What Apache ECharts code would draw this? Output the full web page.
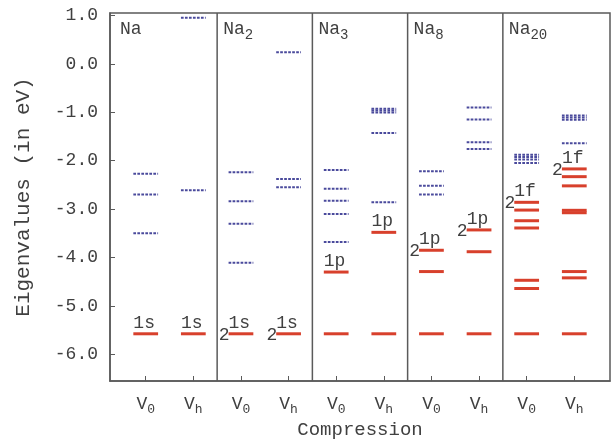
<!DOCTYPE html>
<html>
<head>
<meta charset="utf-8">
<script src="https://cdn.jsdelivr.net/npm/echarts@6/dist/echarts.min.js"></script>
<style>
  html, body { margin: 0; padding: 0; background: #ffffff; }
  #chart { width: 611px; height: 447px; }
</style>
</head>
<body>
<div id="chart"></div>
<script>
// Cluster names (base + subscript) and the two volumes compared in each panel
const clusterBase = ['Na', 'Na', 'Na', 'Na', 'Na'];
const clusterSub = ['', '2', '3', '8', '20'];
const volumeSub = ['0', 'h'];
const yTickValues = [1, 0, -1, -2, -3, -4, -5, -6];

// Occupied Kohn-Sham levels (eV), one list per cluster
const occupiedV0 = [
  [-5.575],
  [-5.575],
  [-4.30, -5.575],
  [-3.85, -4.29, -5.575],
  [-2.86, -3.02, -3.24, -3.39, -4.47, -4.64, -5.575]
];
const occupiedVh = [
  [-5.575],
  [-5.575],
  [-3.48, -5.575],
  [-3.43, -3.88, -5.575],
  [-2.17, -2.33, -2.52, -3.025, -3.075, -4.29, -4.42, -5.575]
];

// Unoccupied levels (eV)
const emptyV0 = [
  [-2.27, -2.70, -3.50],
  [-2.24, -2.84, -3.30, -4.11],
  [-2.19, -2.58, -2.83, -3.10, -3.68],
  [-2.22, -2.52, -2.70],
  [-1.875, -1.925, -1.975, -2.05]
];
const emptyVh = [
  [0.95, -2.61],
  [0.24, -2.38, -2.55],
  [-0.925, -0.965, -1.005, -1.43, -2.86],
  [-0.90, -1.15, -1.62, -1.76],
  [-1.065, -1.11, -1.155, -1.64]
];

// Shell labels: [cluster, volume (0 = V0, 1 = Vh), index into occupied list, shell, degeneracy]
const shellLabels = [
  [0, 0, 0, '1s', ''],
  [0, 1, 0, '1s', ''],
  [1, 0, 0, '1s', '2'],
  [1, 1, 0, '1s', '2'],
  [2, 0, 0, '1p', ''],
  [2, 1, 0, '1p', ''],
  [3, 0, 0, '1p', '2'],
  [3, 1, 0, '1p', '2'],
  [4, 0, 0, '1f', '2'],
  [4, 1, 0, '1f', '2']
];

const Y_MIN = -6.55, Y_MAX = 1.05;
const X_MIN = 0.25, X_MAX = 10.75;
const HALF = 0.26;
const FONT = "'Liberation Mono', 'DejaVu Sans Mono', monospace";
const TEXT = '#404040';
const RED = '#d8402c';
const BLUE = '#4a4a9c';
const FRAME = '#5a5a5a';

const xPos = (c, v) => 2 * c + 1 + v;

function levelData(v0, vh) {
  const out = [];
  for (let c = 0; c < v0.length; c++) {
    v0[c].forEach(e => out.push([xPos(c, 0), e]));
    vh[c].forEach(e => out.push([xPos(c, 1), e]));
  }
  return out;
}

const occupiedData = levelData(occupiedV0, occupiedVh);
const emptyData = levelData(emptyV0, emptyVh);
const labelData = shellLabels.map(([c, v, i, shell, deg]) => {
  const e = (v === 0 ? occupiedV0 : occupiedVh)[c][i];
  return [xPos(c, v), e, shell, deg];
});
const separatorData = [2.5, 4.5, 6.5, 8.5].map(x => [x, Y_MIN]);
const titleData = clusterBase.map((b, c) => [c === 0 ? X_MIN : 2 * c + 0.5, Y_MAX, b, clusterSub[c], c === 0 ? 10 : 6]);
const tickValues = [];
for (let c = 0; c < clusterBase.length; c++) { tickValues.push(xPos(c, 0), xPos(c, 1)); }

function levelRenderer(color, width, dash) {
  return function (params, api) {
    const x = api.value(0), e = api.value(1);
    const a = api.coord([x - HALF, e]);
    const b = api.coord([x + HALF, e]);
    return {
      type: 'line',
      shape: { x1: a[0], y1: a[1], x2: b[0], y2: b[1] },
      style: { stroke: color, lineWidth: width, lineDash: dash }
    };
  };
}

const chart = echarts.init(document.getElementById('chart'), null, { renderer: 'canvas' });

chart.setOption({
  animation: false,
  backgroundColor: '#ffffff',
  grid: {
    left: 110, right: 1, top: 13, bottom: 66,
    show: true, borderColor: FRAME, borderWidth: 1.5, backgroundColor: 'transparent'
  },
  xAxis: {
    type: 'value', min: X_MIN, max: X_MAX,
    name: 'Compression', nameLocation: 'middle', nameGap: 34,
    nameTextStyle: { fontFamily: FONT, fontSize: 19, color: TEXT },
    axisLine: { show: true, onZero: false, lineStyle: { color: FRAME, width: 1.5 } },
    axisTick: { show: true, inside: true, length: 5, customValues: tickValues, lineStyle: { color: FRAME } },
    splitLine: { show: false },
    axisLabel: {
      customValues: tickValues,
      margin: 11,
      formatter: v => '{b|V}{s|' + volumeSub[(Math.round(v) + 1) % 2] + '}',
      rich: {
        b: { fontFamily: FONT, fontSize: 18, color: TEXT, lineHeight: 24 },
        s: { fontFamily: FONT, fontSize: 13, color: TEXT, verticalAlign: 'bottom', lineHeight: 24 }
      }
    }
  },
  yAxis: {
    type: 'value', min: Y_MIN, max: Y_MAX,
    name: 'Eigenvalues (in eV)', nameLocation: 'middle', nameGap: 76, nameRotate: 90,
    nameTextStyle: { fontFamily: FONT, fontSize: 21, color: TEXT },
    axisLine: { show: true, onZero: false, lineStyle: { color: FRAME, width: 1.5 } },
    axisTick: { show: true, inside: true, length: 5, customValues: yTickValues, lineStyle: { color: FRAME } },
    splitLine: { show: false },
    axisLabel: {
      customValues: yTickValues,
      margin: 12,
      fontFamily: FONT, fontSize: 18, color: TEXT,
      formatter: v => v.toFixed(1)
    }
  },
  series: [
    {
      type: 'custom', name: 'separators', silent: true,
      encode: { x: 0, y: 1 },
      data: separatorData,
      renderItem: (params, api) => {
        const a = api.coord([api.value(0), Y_MIN]);
        const b = api.coord([api.value(0), Y_MAX]);
        return { type: 'line', shape: { x1: a[0], y1: a[1], x2: b[0], y2: b[1] },
                 style: { stroke: FRAME, lineWidth: 1.5 } };
      }
    },
    {
      type: 'custom', name: 'unoccupied', silent: true,
      encode: { x: 0, y: 1 },
      data: emptyData,
      renderItem: levelRenderer(BLUE, 2, [2.7, 1.3])
    },
    {
      type: 'custom', name: 'occupied', silent: true,
      encode: { x: 0, y: 1 },
      data: occupiedData,
      renderItem: levelRenderer(RED, 3, null)
    },
    {
      type: 'custom', name: 'shells', silent: true,
      encode: { x: 0, y: 1 },
      data: labelData,
      renderItem: (params, api) => {
        const x = api.value(0), e = api.value(1);
        const p = api.coord([x - HALF, e]);
        const shell = labelData[params.dataIndex][2];
        const deg = labelData[params.dataIndex][3];
        const children = [{
          type: 'text', x: p[0], y: p[1] - 2,
          style: { text: shell, fontFamily: FONT, fontSize: 18, fill: TEXT, align: 'left', verticalAlign: 'bottom' }
        }];
        if (deg) {
          children.push({
            type: 'text', x: p[0] + 1, y: p[1] + 1,
            style: { text: deg, fontFamily: FONT, fontSize: 18, fill: TEXT, align: 'right', verticalAlign: 'middle' }
          });
        }
        return { type: 'group', children };
      }
    },
    {
      type: 'custom', name: 'titles', silent: true,
      encode: { x: 0, y: 1 },
      data: titleData,
      renderItem: (params, api) => {
        const d = titleData[params.dataIndex];
        const p = api.coord([d[0], d[1]]);
        return {
          type: 'text', x: p[0] + d[4], y: p[1] + 16,
          style: {
            text: '{b|' + d[2] + '}' + (d[3] ? '{s|' + d[3] + '}' : ''),
            align: 'left', verticalAlign: 'middle',
            rich: {
              b: { fontFamily: FONT, fontSize: 18, fill: TEXT, lineHeight: 26 },
              s: { fontFamily: FONT, fontSize: 14, fill: TEXT, verticalAlign: 'bottom', lineHeight: 26 }
            }
          }
        };
      }
    }
  ]
});
</script>
</body>
</html>
